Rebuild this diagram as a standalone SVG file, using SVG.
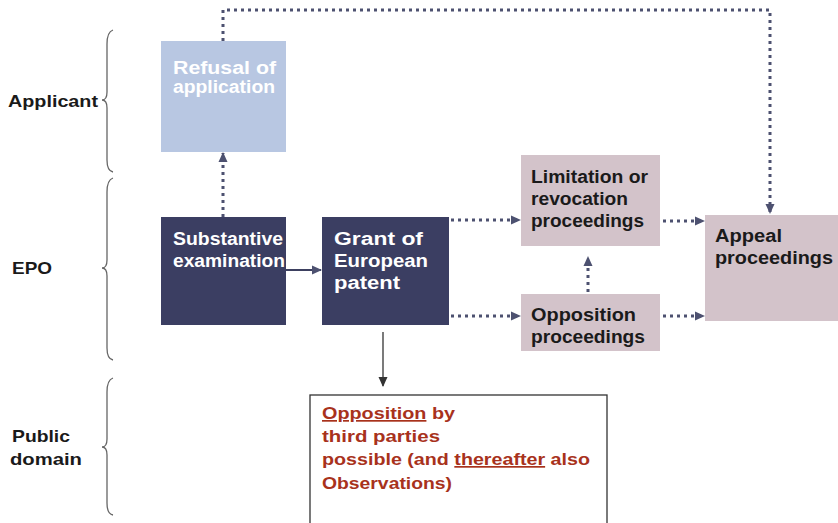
<svg xmlns="http://www.w3.org/2000/svg" width="838" height="523" viewBox="0 0 838 523">
<style>
.lbl{font-family:"Liberation Sans",Arial,sans-serif;font-weight:bold;font-size:17px;fill:#1a1a1a}
.wt{font-family:"Liberation Sans",Arial,sans-serif;font-weight:bold;font-size:18px;fill:#ffffff}
.bk{font-family:"Liberation Sans",Arial,sans-serif;font-weight:bold;font-size:18px;fill:#1a1a1a}
.rd{font-family:"Liberation Sans",Arial,sans-serif;font-weight:bold;font-size:17px;fill:#a8321c}
.brace{fill:none;stroke:#666;stroke-width:1.3}
.dot{fill:none;stroke:#4d5170;stroke-width:3;stroke-dasharray:3 4}
.sol{fill:none;stroke:#3d4060;stroke-width:2}
.thin{fill:none;stroke:#333;stroke-width:1.3}
</style>
<defs>
<marker id="ah" markerWidth="10" markerHeight="10" refX="9" refY="5" orient="auto" markerUnits="userSpaceOnUse">
<path d="M0,0.5 L10,5 L0,9.5 Z" fill="#4d5170"/>
</marker>
<marker id="ah2" markerWidth="10" markerHeight="10" refX="9" refY="5" orient="auto" markerUnits="userSpaceOnUse">
<path d="M0,0.5 L10,5 L0,9.5 Z" fill="#333"/>
</marker>
</defs>
<rect width="838" height="523" fill="#ffffff"/>

<g id="labels">
<text class="lbl" x="8" y="107" textLength="90" lengthAdjust="spacingAndGlyphs">Applicant</text>
<text class="lbl" x="12" y="274" textLength="40" lengthAdjust="spacingAndGlyphs">EPO</text>
<text class="lbl" x="12" y="442" textLength="58" lengthAdjust="spacingAndGlyphs">Public</text>
<text class="lbl" x="10" y="465" textLength="72" lengthAdjust="spacingAndGlyphs">domain</text>
<path class="brace" d="M113,30 Q107,32 107,44 L107,92 Q107,100 102,100 Q107,100 107,108 L107,160 Q107,171 113,172"/>
<path class="brace" d="M113,178 Q107,180 107,192 L107,260 Q107,268 102,268 Q107,268 107,276 L107,348 Q107,359 113,360"/>
<path class="brace" d="M113,378 Q107,380 107,392 L107,439 Q107,447 102,447 Q107,447 107,455 L107,503 Q107,514 113,515"/>
</g>

<g id="connectors">
<path class="dot" d="M223,41 L223,10 L770,10 L770,213" marker-end="url(#ah)"/>
<path class="dot" d="M223,217 L223,153" marker-end="url(#ah)"/>
<path class="sol" d="M286,270 L321,270" marker-end="url(#ah)"/>
<path class="dot" d="M451,220 L520,220" marker-end="url(#ah)"/>
<path class="dot" d="M451,316 L520,316" marker-end="url(#ah)"/>
<path class="dot" d="M663,221 L704,221" marker-end="url(#ah)"/>
<path class="dot" d="M663,316 L704,316" marker-end="url(#ah)"/>
<path class="dot" d="M588,292 L588,257" marker-end="url(#ah)"/>
<path class="thin" d="M383,332 L383,386" marker-end="url(#ah2)"/>
</g>

<g id="refusal">
<rect x="161" y="41" width="125" height="111" fill="#b8c7e2"/>
<text class="wt" x="173" y="74" textLength="103" lengthAdjust="spacingAndGlyphs">Refusal of</text>
<text class="wt" x="173" y="93" textLength="102" lengthAdjust="spacingAndGlyphs">application</text>
</g>

<g id="substantive">
<rect x="161" y="217" width="125" height="108" fill="#3b3e62"/>
<text class="wt" x="173" y="245" textLength="110" lengthAdjust="spacingAndGlyphs">Substantive</text>
<text class="wt" x="173" y="267" textLength="112" lengthAdjust="spacingAndGlyphs">examination</text>
</g>

<g id="grant">
<rect x="322" y="217" width="127" height="108" fill="#3b3e62"/>
<text class="wt" x="334" y="245" textLength="89" lengthAdjust="spacingAndGlyphs">Grant of</text>
<text class="wt" x="334" y="267" textLength="94" lengthAdjust="spacingAndGlyphs">European</text>
<text class="wt" x="334" y="289" textLength="66" lengthAdjust="spacingAndGlyphs">patent</text>
</g>

<g id="limitation">
<rect x="521" y="155" width="139" height="91" fill="#d3c3ca"/>
<text class="bk" x="531" y="183" textLength="117" lengthAdjust="spacingAndGlyphs">Limitation or</text>
<text class="bk" x="531" y="205" textLength="97" lengthAdjust="spacingAndGlyphs">revocation</text>
<text class="bk" x="531" y="227" textLength="113" lengthAdjust="spacingAndGlyphs">proceedings</text>
</g>

<g id="opposition">
<rect x="521" y="294" width="139" height="57" fill="#d3c3ca"/>
<text class="bk" x="531" y="321" textLength="105" lengthAdjust="spacingAndGlyphs">Opposition</text>
<text class="bk" x="531" y="343" textLength="114" lengthAdjust="spacingAndGlyphs">proceedings</text>
</g>

<g id="appeal">
<rect x="705" y="215" width="133" height="106" fill="#d3c3ca"/>
<text class="bk" x="715" y="242" textLength="67" lengthAdjust="spacingAndGlyphs">Appeal</text>
<text class="bk" x="715" y="264" textLength="118" lengthAdjust="spacingAndGlyphs">proceedings</text>
</g>

<g id="public">
<rect x="310" y="395" width="297" height="140" fill="#ffffff" stroke="#333" stroke-width="1.3"/>
<text class="rd" x="322" y="419" textLength="133" lengthAdjust="spacingAndGlyphs"><tspan text-decoration="underline">Opposition</tspan> by</text>
<text class="rd" x="322" y="442" textLength="118" lengthAdjust="spacingAndGlyphs">third parties</text>
<text class="rd" x="322" y="465" textLength="268" lengthAdjust="spacingAndGlyphs">possible (and <tspan text-decoration="underline">thereafter</tspan> also</text>
<text class="rd" x="322" y="489" textLength="130" lengthAdjust="spacingAndGlyphs">Observations)</text>
</g>
</svg>
